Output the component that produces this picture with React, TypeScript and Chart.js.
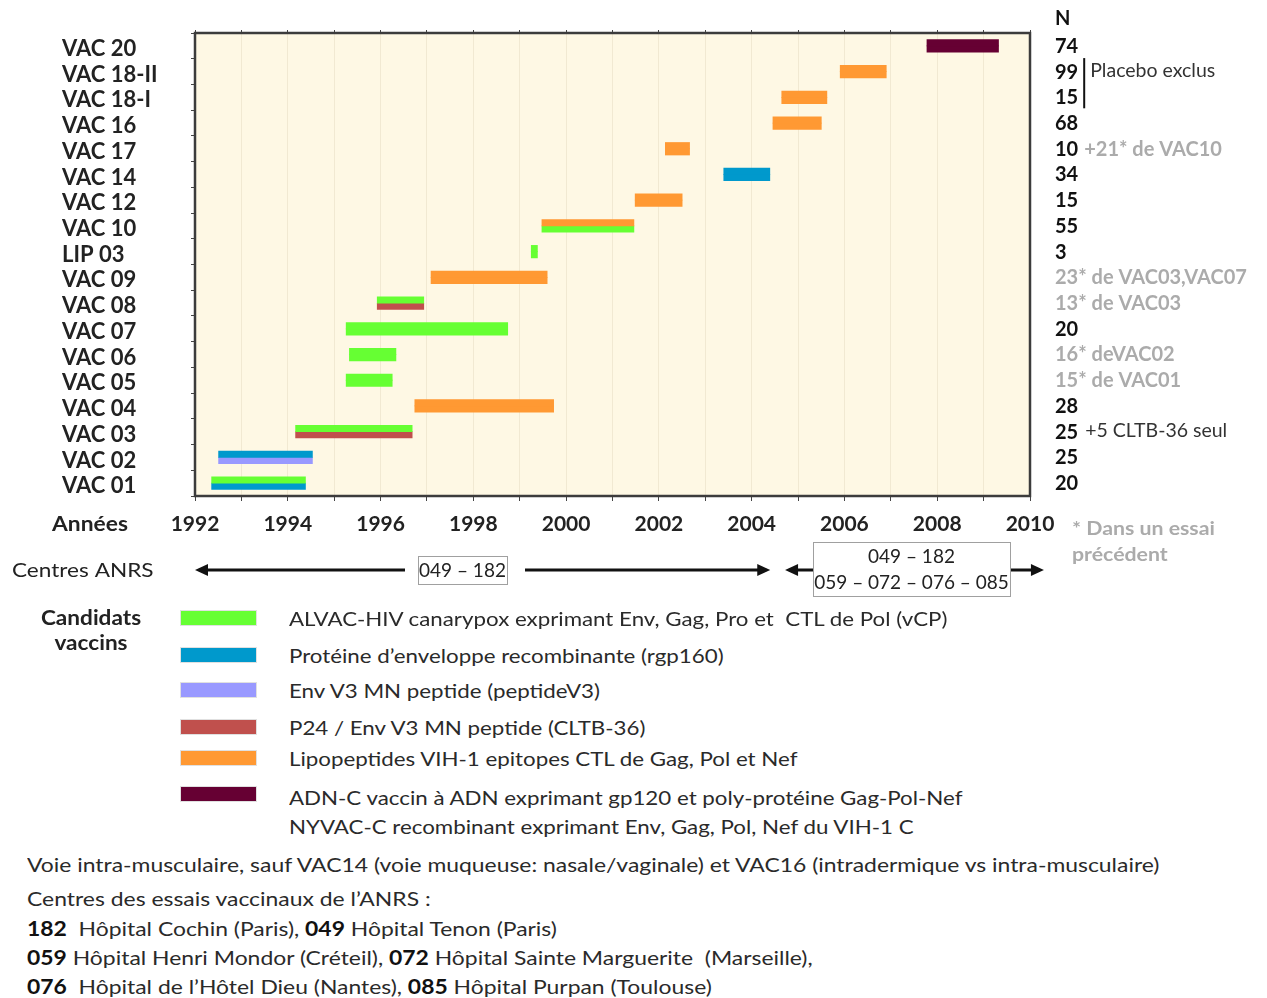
import React, { useEffect, useRef } from 'react';
import { Chart, registerables } from 'chart.js';

Chart.register(...registerables);

// ---------------- data ----------------
const trials = ['VAC 20', 'VAC 18-II', 'VAC 18-I', 'VAC 16', 'VAC 17', 'VAC 14', 'VAC 12', 'VAC 10', 'LIP 03', 'VAC 09', 'VAC 08', 'VAC 07', 'VAC 06', 'VAC 05', 'VAC 04', 'VAC 03', 'VAC 02', 'VAC 01'];
const startYears = [2007.78, 2005.91, 2004.65, 2004.46, 2002.14, 2003.40, 2001.49, 1999.48, 1999.25, 1997.09, 1995.93, 1995.26, 1995.33, 1995.26, 1996.74, 1994.17, 1992.51, 1992.36];
const endYears = [2009.32, 2006.90, 2005.62, 2005.50, 2002.66, 2004.39, 2002.50, 2001.46, 1999.38, 1999.59, 1996.93, 1998.74, 1996.33, 1996.25, 1999.73, 1996.68, 1994.53, 1994.38];
const upperVaccine = ['ADN', 'LIPO', 'LIPO', 'LIPO', 'LIPO', 'RGP', 'LIPO', 'LIPO', 'ALVAC', 'LIPO', 'ALVAC', 'ALVAC', 'ALVAC', 'ALVAC', 'LIPO', 'ALVAC', 'RGP', 'ALVAC'];
const lowerVaccine = ['ADN', 'LIPO', 'LIPO', 'LIPO', 'LIPO', 'RGP', 'LIPO', 'ALVAC', 'ALVAC', 'LIPO', 'CLTB', 'ALVAC', 'ALVAC', 'ALVAC', 'LIPO', 'CLTB', 'V3', 'RGP'];
const vaccineKeys = ['ALVAC', 'RGP', 'V3', 'CLTB', 'LIPO', 'ADN'];
const vaccineColors = ['#66ff33', '#0099cc', '#9999ff', '#c0504d', '#ff9933', '#660033'];
const vaccineNames = [
  ['ALVAC-HIV canarypox exprimant Env, Gag, Pro et  CTL de Pol (vCP)'],
  ['Protéine d’enveloppe recombinante (rgp160)'],
  ['Env V3 MN peptide (peptideV3)'],
  ['P24 / Env V3 MN peptide (CLTB-36)'],
  ['Lipopeptides VIH-1 epitopes CTL de Gag, Pol et Nef'],
  ['ADN-C vaccin à ADN exprimant gp120 et poly-protéine Gag-Pol-Nef', 'NYVAC-C recombinant exprimant Env, Gag, Pol, Nef du VIH-1 C'],
];
const participants = ['74', '99', '15', '68', '10', '34', '15', '55', '3', '', '', '20', '', '', '28', '25', '25', '20'];
const sideNotes = ['', 'Placebo exclus', '', '', '+21* de VAC10', '', '', '', '', '23* de VAC03,VAC07', '13* de VAC03', '', '16* deVAC02', '15* de VAC01', '', '+5 CLTB-36 seul', '', ''];
const sideNoteKind = ['', 'plain', '', '', 'prior', '', '', '', '', 'prior', 'prior', '', 'prior', 'prior', '', 'plain', '', ''];
const yearMin = 1992;
const yearMax = 2010;
const centresStart = [1992, 2004.72];
const centresEnd = [2004.4, 2010.3];
const centresLabels = [['049 – 182'], ['049 – 182', '059 – 072 – 076 – 085']];
const footLines = [
  [['Voie intra-musculaire, sauf VAC14 (voie muqueuse: nasale/vaginale) et VAC16 (intradermique vs intra-musculaire)', false]],
  [['Centres des essais vaccinaux de l’ANRS :', false]],
  [['182', true], ['  Hôpital Cochin (Paris), ', false], ['049', true], [' Hôpital Tenon (Paris)', false]],
  [['059', true], [' Hôpital Henri Mondor (Créteil), ', false], ['072', true], [' Hôpital Sainte Marguerite  (Marseille),', false]],
  [['076', true], ['  Hôpital de l’Hôtel Dieu (Nantes), ', false], ['085', true], [' Hôpital Purpan (Toulouse)', false]],
];

// ---------------- style ----------------
const FONT = 'Lato, "Open Sans", sans-serif';
const BG = '#fef8e4';
const TXT = '#222';
const GRAY = '#ababab';

function arrowHead(ctx: CanvasRenderingContext2D, x: number, y: number, dir: number) {
  ctx.beginPath();
  ctx.moveTo(x, y);
  ctx.lineTo(x - dir * 13, y - 6);
  ctx.lineTo(x - dir * 13, y + 6);
  ctx.closePath();
  ctx.fill();
}

function stretchedText(ctx: CanvasRenderingContext2D, text: string, x: number, y: number, sx: number) {
  ctx.save();
  ctx.translate(x, y);
  ctx.scale(sx, 1);
  ctx.fillText(text, 0, 0);
  ctx.restore();
}

const annotPlugin = {
  id: 'annot',
  beforeDraw(chart: any) {
    const { ctx, chartArea: a } = chart;
    ctx.save();
    ctx.fillStyle = BG;
    ctx.fillRect(a.left, a.top, a.right - a.left, a.bottom - a.top);
    ctx.restore();
  },
  afterDraw(chart: any) {
    const { ctx, chartArea: a } = chart;
    const yS = chart.scales.y;
    const xS = chart.scales.x;
    ctx.save();
    // frame
    ctx.strokeStyle = '#3c3c3c';
    ctx.lineWidth = 2.5;
    ctx.strokeRect(a.left, a.top, a.right - a.left, a.bottom - a.top);

    // right column
    const colX = 1055;
    ctx.textBaseline = 'middle';
    ctx.textAlign = 'left';
    ctx.font = `bold 20px ${FONT}`;
    ctx.fillStyle = '#111';
    ctx.fillText('N', colX, 19);
    trials.forEach((_, i) => {
      const y = yS.getPixelForValue(i) + 0.5;
      let x = colX;
      if (participants[i]) {
        ctx.font = `bold 20px ${FONT}`;
        ctx.fillStyle = '#111';
        ctx.fillText(participants[i], colX, y);
        x = colX + ctx.measureText(participants[i]).width + 5;
      }
      if (sideNotes[i]) {
        if (sideNoteKind[i] === 'prior') {
          ctx.font = `bold 20px ${FONT}`;
          ctx.fillStyle = GRAY;
          ctx.fillText(sideNotes[i], x + (participants[i] ? 1 : 0), y);
        } else {
          ctx.font = `19.5px ${FONT}`;
          ctx.fillStyle = '#333';
          const isBracket = sideNotes[i] === 'Placebo exclus';
          ctx.fillText(sideNotes[i], x + (isBracket ? 7 : 2), y - 1);
          if (isBracket) {
            const top = y - 14;
            const bottom = yS.getPixelForValue(i + 1) + 11;
            ctx.strokeStyle = '#111';
            ctx.lineWidth = 2;
            ctx.beginPath();
            ctx.moveTo(x + 1, top);
            ctx.lineTo(x + 1, bottom);
            ctx.stroke();
          }
        }
      }
    });

    // Années
    ctx.font = `bold 20px ${FONT}`;
    ctx.fillStyle = TXT;
    stretchedText(ctx, 'Années', 52, 525, 1.14);

    // footnote star
    ctx.font = `bold 19px ${FONT}`;
    ctx.fillStyle = GRAY;
    stretchedText(ctx, '* Dans un essai', 1072, 529, 1.12);
    stretchedText(ctx, 'précédent', 1072, 555, 1.12);

    // Centres ANRS row
    ctx.font = `20px ${FONT}`;
    ctx.fillStyle = TXT;
    stretchedText(ctx, 'Centres ANRS', 12, 571, 1.13);

    const ay = 570;
    ctx.strokeStyle = '#111';
    ctx.fillStyle = '#111';
    ctx.lineWidth = 3;
    const boxes = [
      { x0: 418, x1: 507, y0: 556, y1: 584, gapL: 13, gapR: 18 },
      { x0: 813, x1: 1010, y0: 542, y1: 596, gapL: 0, gapR: 0 },
    ];
    centresStart.forEach((s, k) => {
      const xs = xS.getPixelForValue(s);
      const xe = xS.getPixelForValue(centresEnd[k]);
      const b = boxes[k];
      ctx.beginPath();
      ctx.moveTo(xs + 4, ay);
      ctx.lineTo(b.x0 - b.gapL, ay);
      ctx.moveTo(b.x1 + b.gapR, ay);
      ctx.lineTo(xe - 4, ay);
      ctx.stroke();
      arrowHead(ctx, xs, ay, -1);
      arrowHead(ctx, xe, ay, 1);
    });
    boxes.forEach((b, k) => {
      ctx.save();
      ctx.fillStyle = '#fff';
      ctx.fillRect(b.x0, b.y0, b.x1 - b.x0, b.y1 - b.y0);
      ctx.strokeStyle = '#a0a0a0';
      ctx.lineWidth = 1;
      ctx.strokeRect(b.x0 + 0.5, b.y0 + 0.5, b.x1 - b.x0, b.y1 - b.y0);
      ctx.fillStyle = TXT;
      ctx.font = `19px ${FONT}`;
      ctx.textAlign = 'center';
      const lines = centresLabels[k];
      const cx = (b.x0 + b.x1) / 2;
      const cy = (b.y0 + b.y1) / 2;
      lines.forEach((t, j) => {
        ctx.fillText(t, cx, cy + (j - (lines.length - 1) / 2) * 26 + 1);
      });
      ctx.restore();
    });
    ctx.restore();
  },
};

function buildDatasets() {
  const ds: any[] = [];
  const halves: [string, string[]][] = [['haut', upperVaccine], ['bas', lowerVaccine]];
  halves.forEach(([half, src]) => {
    vaccineKeys.forEach((k, vi) => {
      ds.push({
        label: `${vaccineNames[vi][0]} (${half})`,
        data: trials.map((_, i) => (src[i] === k ? [startYears[i], endYears[i]] : null)),
        backgroundColor: vaccineColors[vi],
        stack: half,
        barThickness: 6.2,
        borderWidth: 0,
        borderSkipped: false,
        inflateAmount: 0.4,
      });
    });
  });
  return ds;
}

export default function App() {
  const ref = useRef<HTMLCanvasElement>(null);
  useEffect(() => {
    const chart = new Chart(ref.current as HTMLCanvasElement, {
      type: 'bar',
      data: { labels: trials, datasets: buildDatasets() },
      options: {
        indexAxis: 'y',
        animation: false,
        responsive: false,
        layout: { padding: { left: 62, top: 30, right: 237, bottom: 74 } },
        plugins: { legend: { display: false }, tooltip: { enabled: false } },
        scales: {
          x: {
            type: 'linear',
            position: 'bottom',
            min: yearMin,
            max: yearMax,
            ticks: {
              stepSize: 1,
              autoSkip: false,
              maxRotation: 0,
              padding: 11,
              color: TXT,
              font: { family: FONT, size: 21, weight: 'bold' },
              callback: (v: any) => (Number(v) % 2 === 0 ? String(v) : ''),
            },
            grid: { color: '#f1e9d2', tickColor: '#444', tickLength: 5, lineWidth: 1 },
            border: { display: false },
            afterFit: (s: any) => { s.height = 40; },
          },
          x2: {
            type: 'linear',
            position: 'top',
            min: yearMin,
            max: yearMax,
            ticks: { display: false, stepSize: 1, autoSkip: false },
            grid: { drawOnChartArea: false, tickColor: '#444', tickLength: 3 },
            border: { display: false },
          },
          y: {
            type: 'category',
            position: 'left',
            offset: true,
            ticks: { crossAlign: 'far', color: TXT, font: { family: FONT, size: 22, weight: 'bold' }, autoSkip: false, padding: 8, labelOffset: 3 },
            grid: { drawOnChartArea: false, tickColor: '#444', tickLength: 4, offset: true },
            border: { display: false },
            afterFit: (s: any) => { s.width = 133; },
          },
        },
      } as any,
      plugins: [annotPlugin],
    });
    return () => chart.destroy();
  }, []);

  const legendY = [618, 655, 690, 727, 758, 797];
  const footY = [864, 898, 928, 957, 986];

  return (
    <div style={{ position: 'absolute', left: 0, top: 0, width: 1267, height: 998, background: '#fff', fontFamily: FONT, overflow: 'hidden' }}>
      <canvas ref={ref} width={1267} height={610} style={{ position: 'absolute', left: 0, top: 0 }} />
      <div style={{ position: 'absolute', left: 36, top: 605, width: 110, textAlign: 'center', fontWeight: 'bold', fontSize: 20, lineHeight: '25px', color: TXT, transform: 'scaleX(1.13)', transformOrigin: '55px 0' }}>
        Candidats<br />vaccins
      </div>
      {vaccineKeys.map((k, i) => (
        <React.Fragment key={k}>
          <div style={{ position: 'absolute', left: 181, top: legendY[i] - 7 - (i === 5 ? 3 : 0), width: 75, height: 14, background: vaccineColors[i], boxShadow: '0 0 0 1px rgba(0,0,0,0.12)' }} />
          <div style={{ position: 'absolute', left: 289, top: legendY[i] - 14, fontSize: 20, lineHeight: '29px', color: '#2a2a2a', whiteSpace: 'pre', transform: 'scaleX(1.115)', transformOrigin: '0 0' }}>
            {vaccineNames[i].map((t, j) => (<div key={j}>{t}</div>))}
          </div>
        </React.Fragment>
      ))}
      {footLines.map((segs, i) => (
        <div key={i} style={{ position: 'absolute', left: 27, top: footY[i] - 12, fontSize: 20, lineHeight: '24px', color: '#2a2a2a', whiteSpace: 'pre', transform: 'scaleX(1.145)', transformOrigin: '0 0' }}>
          {segs.map((s, j) => (
            <span key={j} style={{ fontWeight: s[1] ? 'bold' : 'normal', color: s[1] ? '#111' : undefined }}>{s[0] as string}</span>
          ))}
        </div>
      ))}
    </div>
  );
}
